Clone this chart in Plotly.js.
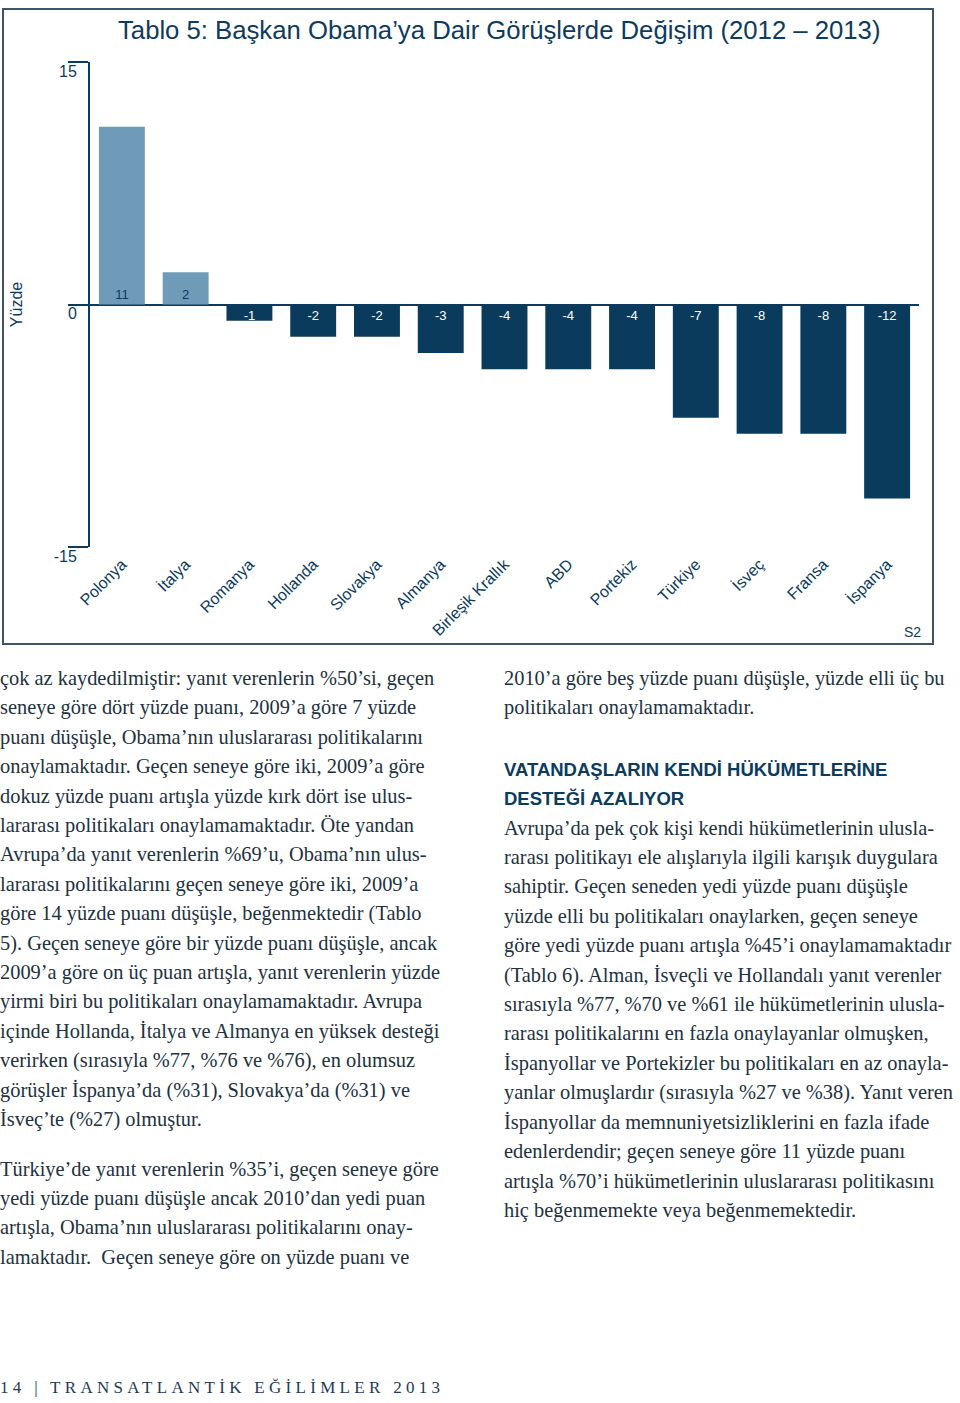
<!DOCTYPE html>
<html>
<head>
<meta charset="utf-8">
<script src="https://cdn.plot.ly/plotly-3.0.1.min.js"></script>
<style>
  html, body { margin: 0; padding: 0; background: #ffffff; }
  body { width: 960px; height: 1403px; position: relative; overflow: hidden; }
  #chart { position: absolute; left: 0; top: 0; width: 960px; height: 650px; }
  #frame { position: absolute; left: 2px; top: 8px; width: 928px; height: 633px; border: 2px solid #3d5466; pointer-events: none; }
  .col { position: absolute; top: 664px; font-family: "Liberation Serif", "Times New Roman", serif; font-size: 20.4px; line-height: 29.4px; color: #22313f; white-space: nowrap; }
  .col p { margin: 0; }
  .gap { height: 20px; }
  .head { font-family: "Liberation Sans", Arial, sans-serif; font-weight: bold; font-size: 18.5px; color: #0d3b5e; line-height: 29.4px; }
  #footer { position: absolute; left: 0; top: 1378px; font-family: "Liberation Serif", serif; font-size: 17px; letter-spacing: 4.3px; color: #1e3a55; white-space: nowrap; }
</style>
</head>
<body>
<div id="chart"></div>
<div id="frame"></div>

<div class="col" style="left:0px;">
<p>çok az kaydedilmiştir: yanıt verenlerin %50’si, geçen<br>
seneye göre dört yüzde puanı, 2009’a göre 7 yüzde<br>
puanı düşüşle, Obama’nın uluslararası politikalarını<br>
onaylamaktadır. Geçen seneye göre iki, 2009’a göre<br>
dokuz yüzde puanı artışla yüzde kırk dört ise ulus-<br>
lararası politikaları onaylamamaktadır. Öte yandan<br>
Avrupa’da yanıt verenlerin %69’u, Obama’nın ulus-<br>
lararası politikalarını geçen seneye göre iki, 2009’a<br>
göre 14 yüzde puanı düşüşle, beğenmektedir (Tablo<br>
5). Geçen seneye göre bir yüzde puanı düşüşle, ancak<br>
2009’a göre on üç puan artışla, yanıt verenlerin yüzde<br>
yirmi biri bu politikaları onaylamamaktadır. Avrupa<br>
içinde Hollanda, İtalya ve Almanya en yüksek desteği<br>
verirken (sırasıyla %77, %76 ve %76), en olumsuz<br>
görüşler İspanya’da (%31), Slovakya’da (%31) ve<br>
İsveç’te (%27) olmuştur.</p>
<div class="gap"></div>
<p>Türkiye’de yanıt verenlerin %35’i, geçen seneye göre<br>
yedi yüzde puanı düşüşle ancak 2010’dan yedi puan<br>
artışla, Obama’nın uluslararası politikalarını onay-<br>
lamaktadır.&nbsp; Geçen seneye göre on yüzde puanı ve</p>
</div>

<div class="col" style="left:504px;">
<p>2010’a göre beş yüzde puanı düşüşle, yüzde elli üç bu<br>
politikaları onaylamamaktadır.</p>
<div class="gap" style="height:32px"></div>
<div class="head">VATANDAŞLARIN KENDİ HÜKÜMETLERİNE<br>DESTEĞİ AZALIYOR</div>
<p>Avrupa’da pek çok kişi kendi hükümetlerinin ulusla-<br>
rarası politikayı ele alışlarıyla ilgili karışık duygulara<br>
sahiptir. Geçen seneden yedi yüzde puanı düşüşle<br>
yüzde elli bu politikaları onaylarken, geçen seneye<br>
göre yedi yüzde puanı artışla %45’i onaylamamaktadır<br>
(Tablo 6). Alman, İsveçli ve Hollandalı yanıt verenler<br>
sırasıyla %77, %70 ve %61 ile hükümetlerinin ulusla-<br>
rarası politikalarını en fazla onaylayanlar olmuşken,<br>
İspanyollar ve Portekizler bu politikaları en az onayla-<br>
yanlar olmuşlardır (sırasıyla %27 ve %38). Yanıt veren<br>
İspanyollar da memnuniyetsizliklerini en fazla ifade<br>
edenlerdendir; geçen seneye göre 11 yüzde puanı<br>
artışla %70’i hükümetlerinin uluslararası politikasını<br>
hiç beğenmemekte veya beğenmemektedir.</p>
</div>

<div id="footer">14 | TRANSATLANTİK EĞİLİMLER 2013</div>

<script>
// ---- data ----
const countries = ["Polonya", "İtalya", "Romanya", "Hollanda", "Slovakya", "Almanya",
  "Birleşik Krallık", "ABD", "Portekiz", "Türkiye", "İsveç", "Fransa", "İspanya"];
const changes = [11, 2, -1, -2, -2, -3, -4, -4, -4, -7, -8, -8, -12];
const yTicks = [-15, 0, 15];
const chartTitle = "Tablo 5: Başkan Obama’ya Dair Görüşlerde Değişim (2012 – 2013)";
const yTitle = "Yüzde";
const sourceNote = "S2";

// ---- styles ----
const NAVY = "#0a3a5c";
const LIGHT = "#6f9ab8";
const TEXTNAVY = "#0d3b5e";

const barColors = changes.map(v => v >= 0 ? LIGHT : NAVY);
const labelColors = changes.map(v => v >= 0 ? TEXTNAVY : "#ffffff");

const trace = {
  type: "bar",
  x: countries,
  y: changes,
  marker: { color: barColors, line: { width: 0 } },
  text: changes.map(String),
  texttemplate: "%{text}",
  textposition: "inside",
  insidetextanchor: "start",
  textangle: 0,
  constraintext: "none",
  textfont: { family: "Liberation Sans, Arial, sans-serif", size: 13, color: labelColors },
  hoverinfo: "x+y",
  cliponaxis: false
};

const layout = {
  width: 960,
  height: 650,
  margin: { l: 90, r: 41, t: 62, b: 103 },
  paper_bgcolor: "rgba(0,0,0,0)",
  plot_bgcolor: "rgba(0,0,0,0)",
  showlegend: false,
  bargap: 0.28,
  font: { family: "Liberation Sans, Arial, sans-serif", color: TEXTNAVY },
  title: {
    text: chartTitle,
    font: { family: "Liberation Sans, Arial, sans-serif", size: 25.7, color: TEXTNAVY },
    x: 118 / 960, xanchor: "left", xref: "container",
    y: 1 - 30 / 650, yanchor: "middle", yref: "container"
  },
  xaxis: {
    type: "category",
    range: [-0.5, countries.length - 0.5],
    showline: false,
    showgrid: false,
    zeroline: false,
    ticks: "",
    tickangle: -45,
    tickfont: { family: "Liberation Sans, Arial, sans-serif", size: 16, color: TEXTNAVY },
    ticklabelstandoff: 4,
    fixedrange: true
  },
  yaxis: {
    range: [-15, 15],
    tickvals: yTicks,
    ticktext: yTicks.map(String),
    showgrid: false,
    showline: true,
    linecolor: TEXTNAVY,
    linewidth: 2,
    zeroline: true,
    zerolinecolor: TEXTNAVY,
    zerolinewidth: 2,
    ticks: "outside",
    ticklen: 20,
    tickwidth: 2,
    tickcolor: TEXTNAVY,
    tickfont: { family: "Liberation Sans, Arial, sans-serif", size: 16, color: TEXTNAVY },
    ticklabelstandoff: -12,
    ticklabelshift: 9,
    title: {
      text: yTitle,
      font: { family: "Liberation Sans, Arial, sans-serif", size: 16, color: TEXTNAVY },
      standoff: 27
    },
    fixedrange: true
  },
  annotations: [{
    text: sourceNote,
    xref: "paper", yref: "paper",
    x: (912 - 90) / 829, y: (547 - 632) / 485,
    xanchor: "center", yanchor: "middle",
    showarrow: false,
    font: { family: "Liberation Sans, Arial, sans-serif", size: 14, color: TEXTNAVY }
  }]
};

Plotly.newPlot("chart", [trace], layout, { displayModeBar: false, staticPlot: true });
</script>
</body>
</html>
